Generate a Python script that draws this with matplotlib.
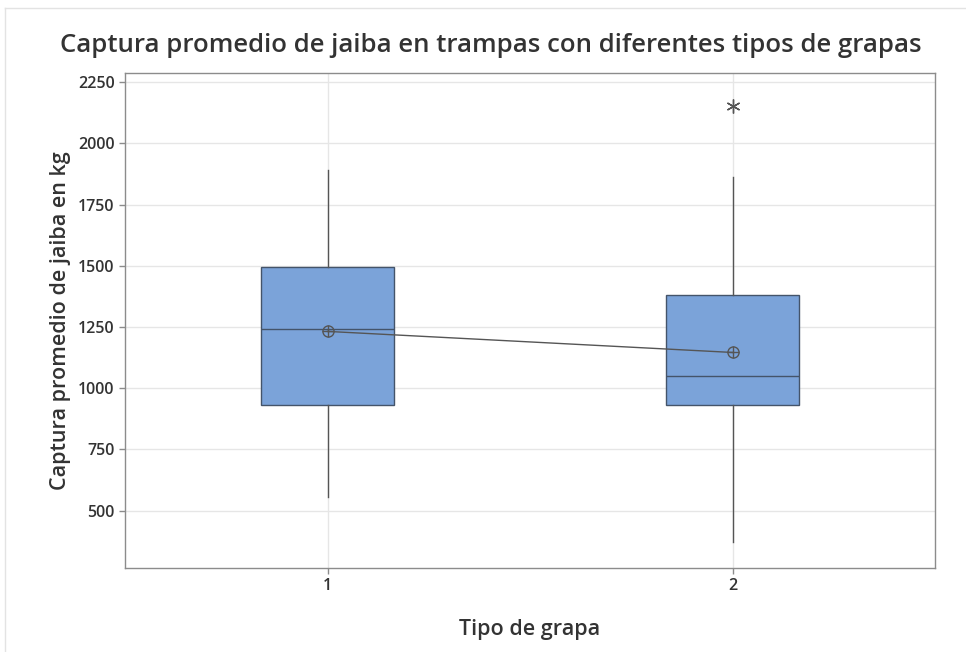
import matplotlib
matplotlib.use("Agg")
import matplotlib.pyplot as plt
from matplotlib.lines import Line2D

plt.rcParams['font.family'] = ['Open Sans', 'DejaVu Sans']

# Grapa types and their summary statistics (kg)
grupos = ["1", "2"]
q1 = [933, 933]
mediana = [1243, 1051]
q3 = [1495, 1382]
bigote_inf = [556, 373]
bigote_sup = [1890, 1863]
media = [1232, 1146]
atipicos = [[], [2151]]

titulo = "Captura promedio de jaiba en trampas con diferentes tipos de grapas"
etiqueta_x = "Tipo de grapa"
etiqueta_y = "Captura promedio de jaiba en kg"
yticks = [500, 750, 1000, 1250, 1500, 1750, 2000, 2250]

texto = "#333333"
caja = "#7BA3D9"
borde_caja = "#44546A"
linea = "#555555"

fig = plt.figure(figsize=(9.66, 6.52), dpi=100)
ax = fig.add_axes([125 / 966, 1 - 568 / 652, (935 - 125) / 966, (568 - 73) / 652])

stats = []
for i in range(len(grupos)):
    stats.append(dict(label=grupos[i], q1=q1[i], med=mediana[i], q3=q3[i],
                      whislo=bigote_inf[i], whishi=bigote_sup[i], fliers=[]))

pos = list(range(1, len(grupos) + 1))
ax.bxp(stats, positions=pos, widths=0.33, patch_artist=True, showcaps=False,
       showfliers=False, manage_ticks=False,
       boxprops=dict(facecolor=caja, edgecolor=borde_caja, linewidth=1.0),
       medianprops=dict(color=borde_caja, linewidth=1.0),
       whiskerprops=dict(color=linea, linewidth=1.0), zorder=3)

# Mean connect line with circled-cross markers
ax.plot(pos, media, color=linea, linewidth=1.0, zorder=4)
ax.plot(pos, media, linestyle='none', marker='o', markersize=8,
        markerfacecolor='none', markeredgecolor=linea, markeredgewidth=1.0, zorder=5)
ax.plot(pos, media, linestyle='none', marker='+', markersize=8,
        markeredgecolor=linea, markeredgewidth=1.0, zorder=5)

# Outliers
for p, vals in zip(pos, atipicos):
    if vals:
        ax.plot([p] * len(vals), vals, linestyle='none', marker=(6, 2, 0),
                markersize=10, markeredgecolor=linea, markeredgewidth=1.0, zorder=5)

ax.set_xlim(0.5, 2.5)
ax.set_ylim(266, 2287)
ax.set_xticks(pos)
ax.set_xticklabels(grupos)
ax.set_yticks(yticks)
ax.set_yticklabels([str(v) for v in yticks])

ax.grid(True, color="#E6E6E6", linewidth=1.0, zorder=0)
ax.set_axisbelow(True)
for s in ax.spines.values():
    s.set_color("#8C8C8C")
    s.set_linewidth(1.0)
ax.tick_params(axis='both', colors="#8C8C8C", labelcolor=texto, labelsize=11.5,
               length=4, width=1.0)
for lbl in ax.get_xticklabels() + ax.get_yticklabels():
    lbl.set_fontweight(600)

ax.set_xlabel(etiqueta_x, fontsize=15.5, color=texto, labelpad=18, fontweight=600)
ax.set_ylabel(etiqueta_y, fontsize=15.5, color=texto, labelpad=5, fontweight=600)
fig.text(491 / 966, 1 - 45 / 652, titulo, ha='center', va='center', fontsize=18.5,
         color=texto, fontweight=600)

# Light frame along top and left edges
fig.add_artist(Line2D([5 / 966, 1.0], [1 - 8 / 652, 1 - 8 / 652], color="#E3E3E3",
                      linewidth=1.0, transform=fig.transFigure))
fig.add_artist(Line2D([5 / 966, 5 / 966], [0.0, 1 - 8 / 652], color="#E3E3E3",
                      linewidth=1.0, transform=fig.transFigure))

fig.savefig("out.png", dpi=100, facecolor="white")
